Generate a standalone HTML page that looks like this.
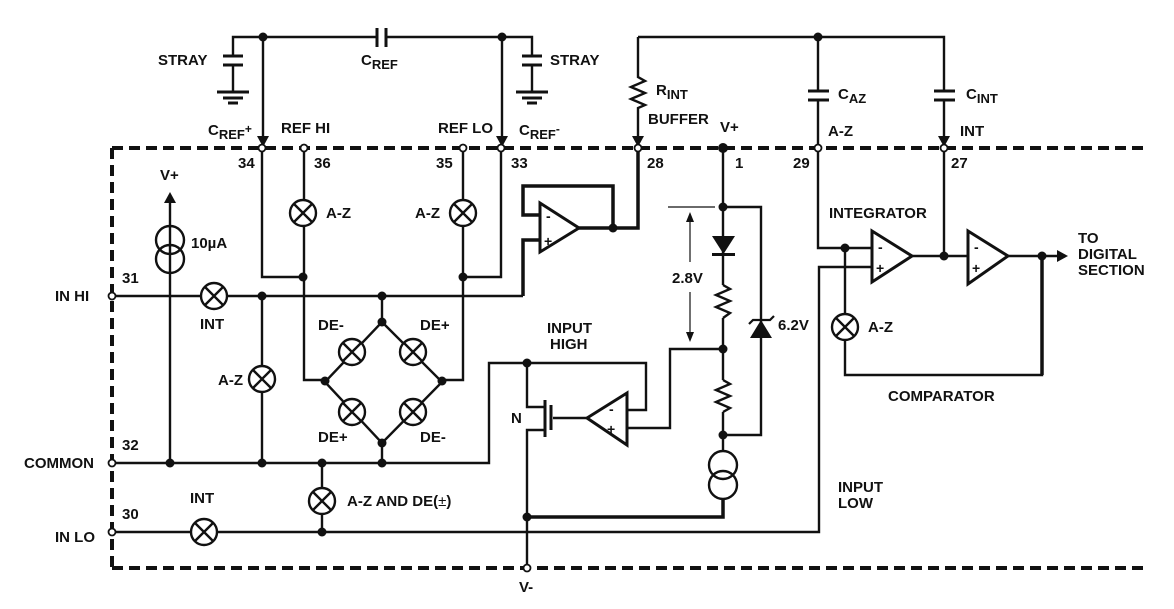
<!DOCTYPE html>
<html><head><meta charset="utf-8"><style>
html,body{margin:0;padding:0;background:#fff}
svg{display:block}
text{font-family:"Liberation Sans",Arial,sans-serif;font-weight:bold;font-size:15px;fill:#111}
.s{font-size:14px}
</style></head><body>
<svg width="1174" height="609" viewBox="0 0 1174 609" xmlns="http://www.w3.org/2000/svg">
<defs>
<g id="sw"><circle r="13" fill="#fff" stroke="#111" stroke-width="2.4"/><path d="M-9,-9L9,9M9,-9L-9,9" stroke="#111" stroke-width="2.4"/></g>
<g id="gnd"><path d="M-16,0H16M-10,6H10M-5,11H5" stroke="#111" stroke-width="3"/></g>
</defs>
<g fill="none" stroke="#111" stroke-width="2.4">
<path d="M112,148H1147M112,568H1147M112,148V568" stroke-width="4" stroke-dasharray="11,6"/>
<path d="M233,56V37H377M386,37H502H532V56M233,65V92M532,65V92"/>
<path d="M377,28V47M386,28V47M223,56H243M223,65H243M522,56H542M522,65H542" stroke-width="3"/>
<path d="M263,37V142M502,37V142"/>
<path d="M262,148V277H303M501,148V277H463"/>
<path d="M304,148V380H325M463,148V380H442"/>
<path d="M325,382L382,322L442,382L382,443Z"/>
<path d="M382,296V322M382,443V463"/>
<path d="M115,296H523"/>
<path d="M523,296V240H540M540,215H523V186H613V228M579,228H638V148" stroke-width="3.5"/>
<path d="M170,200V463"/>
<path d="M262,296V463"/>
<path d="M115,463H489V363H646V410H627"/>
<path d="M115,532H819V267H872"/>
<path d="M322,463V532"/>
<path d="M527,363V407H545M545,430H527V568M587,418H553"/>
<path d="M545,400V437M551,405V430" stroke-width="3"/>
<path d="M627,428H670V349H723"/>
<path d="M723,148V285M723,318V380M723,412V451M723,207H761V435H723"/>
<path d="M668,207H715" stroke-width="1.2"/>
<path d="M690,216V262M690,292V338" stroke-width="1.2"/>
<path d="M723,499V517H527" stroke-width="3.5"/>
<path d="M723,285l7,4l-14,6l14,6l-14,6l14,6l-7,5"/>
<path d="M723,380l7,4l-14,6l14,6l-14,6l14,6l-7,4"/>
<path d="M638,37V77l7,4l-14,6l14,6l-14,6l14,6l-7,3V142"/>
<path d="M638,37H944V91M944,100V142M818,37V91M818,100V148"/>
<path d="M808,91H829M808,100H829M934,91H955M934,100H955" stroke-width="3"/>
<path d="M818,148V248H872M944,148V256M912,256H968"/>
<path d="M845,248V375H1042V256" />
<path d="M1042,256V375" stroke-width="3.5"/>
<path d="M1008,256H1062"/>
<circle cx="170" cy="240" r="14"/><circle cx="170" cy="259" r="14"/>
<circle cx="723" cy="465" r="14"/><circle cx="723" cy="485" r="14"/>
<path d="M540,203L579,228L540,252Z" stroke-width="3"/>
<path d="M627,393L587,418L627,445Z" stroke-width="3"/>
<path d="M872,231L912,256L872,282Z" stroke-width="3"/>
<path d="M968,231L1008,256L968,284Z" stroke-width="3"/>
<path d="M749,324L753,320H770L774,316" stroke-width="2.2"/>
</g>
<g fill="#111">
<path d="M170,192l-6,11h12z"/>
<path d="M263,147l-6,-11h12z"/><path d="M502,147l-6,-11h12z"/>
<path d="M638,147l-6,-11h12z"/><path d="M944,147l-6,-11h12z"/>
<path d="M690,212l-4,10h8z"/><path d="M690,342l-4,-10h8z"/>
<path d="M712,236h23l-11.5,18z"/><rect x="712" y="253" width="23" height="3"/>
<path d="M761,320l-11,18h22z"/>
<path d="M1068,256l-11,-6v12z"/>
<circle cx="263" cy="37" r="4.5"/><circle cx="502" cy="37" r="4.5"/><circle cx="818" cy="37" r="4.5"/>
<circle cx="303" cy="277" r="4.5"/><circle cx="463" cy="277" r="4.5"/>
<circle cx="325" cy="381" r="4.5"/><circle cx="442" cy="381" r="4.5"/>
<circle cx="382" cy="322" r="4.5"/><circle cx="382" cy="443" r="4.5"/>
<circle cx="382" cy="296" r="4.5"/><circle cx="262" cy="296" r="4.5"/>
<circle cx="170" cy="463" r="4.5"/><circle cx="262" cy="463" r="4.5"/><circle cx="322" cy="463" r="4.5"/><circle cx="382" cy="463" r="4.5"/>
<circle cx="322" cy="532" r="4.5"/><circle cx="527" cy="363" r="4.5"/><circle cx="527" cy="517" r="4.5"/>
<circle cx="613" cy="228" r="4.5"/><circle cx="723" cy="148" r="5"/>
<circle cx="723" cy="207" r="4.5"/><circle cx="723" cy="349" r="4.5"/><circle cx="723" cy="435" r="4.5"/>
<circle cx="845" cy="248" r="4.5"/><circle cx="944" cy="256" r="4.5"/><circle cx="1042" cy="256" r="4.5"/>
</g>
<use href="#gnd" x="233" y="92"/><use href="#gnd" x="532" y="92"/>
<use href="#sw" x="303" y="213"/><use href="#sw" x="463" y="213"/>
<use href="#sw" x="214" y="296"/><use href="#sw" x="262" y="379"/>
<use href="#sw" x="352" y="352"/><use href="#sw" x="413" y="352"/>
<use href="#sw" x="352" y="412"/><use href="#sw" x="413" y="412"/>
<use href="#sw" x="322" y="501"/><use href="#sw" x="204" y="532"/>
<use href="#sw" x="845" y="327"/>
<g fill="#fff" stroke="#111" stroke-width="1.8">
<circle cx="262" cy="148" r="3.5"/><circle cx="304" cy="148" r="3.5"/><circle cx="463" cy="148" r="3.5"/><circle cx="501" cy="148" r="3.5"/>
<circle cx="638" cy="148" r="3.5"/><circle cx="818" cy="148" r="3.5"/><circle cx="944" cy="148" r="3.5"/>
<circle cx="112" cy="296" r="3.5"/><circle cx="112" cy="463" r="3.5"/><circle cx="112" cy="532" r="3.5"/>
<circle cx="527" cy="568" r="3.5"/>
</g>
<g>
<text x="546" y="221" class="s">-</text><text x="544" y="246" class="s">+</text>
<text x="609" y="414" class="s">-</text><text x="607" y="434" class="s">+</text>
<text x="878" y="252" class="s">-</text><text x="876" y="273" class="s">+</text>
<text x="974" y="252" class="s">-</text><text x="972" y="273" class="s">+</text>
</g>
<text x="158" y="65">STRAY</text><text x="550" y="65">STRAY</text>
<text x="361" y="65">C<tspan dy="4" style="font-size:13px">REF</tspan></text>
<text x="208" y="135">C<tspan dy="4" style="font-size:13px">REF</tspan><tspan dy="-6" style="font-size:12px">+</tspan></text>
<text x="281" y="133">REF HI</text><text x="438" y="133">REF LO</text>
<text x="519" y="135">C<tspan dy="4" style="font-size:13px">REF</tspan><tspan dy="-6" style="font-size:12px">-</tspan></text>
<text x="656" y="95">R<tspan dy="4" style="font-size:13px">INT</tspan></text>
<text x="648" y="124">BUFFER</text><text x="720" y="132">V+</text>
<text x="838" y="99">C<tspan dy="4" style="font-size:13px">AZ</tspan></text>
<text x="966" y="99">C<tspan dy="4" style="font-size:13px">INT</tspan></text>
<text x="828" y="136">A-Z</text><text x="960" y="136">INT</text>
<text x="238" y="168">34</text><text x="314" y="168">36</text><text x="436" y="168">35</text><text x="511" y="168">33</text>
<text x="647" y="168">28</text><text x="735" y="168">1</text><text x="793" y="168">29</text><text x="951" y="168">27</text>
<text x="160" y="180">V+</text><text x="191" y="248">10µA</text>
<text x="326" y="218">A-Z</text><text x="415" y="218">A-Z</text>
<text x="122" y="283">31</text><text x="55" y="301">IN HI</text>
<text x="200" y="329">INT</text>
<text x="318" y="330">DE-</text><text x="420" y="330">DE+</text>
<text x="318" y="442">DE+</text><text x="420" y="442">DE-</text>
<text x="218" y="385">A-Z</text>
<text x="122" y="450">32</text><text x="24" y="468">COMMON</text>
<text x="190" y="503">INT</text><text x="347" y="506">A-Z AND DE(<tspan font-weight="normal">±</tspan>)</text>
<text x="122" y="519">30</text><text x="55" y="542">IN LO</text>
<text x="547" y="333">INPUT</text><text x="550" y="349">HIGH</text>
<text x="511" y="423">N</text>
<text x="672" y="283">2.8V</text><text x="778" y="330">6.2V</text>
<text x="519" y="592">V-</text>
<text x="838" y="492">INPUT</text><text x="838" y="508">LOW</text>
<text x="829" y="218">INTEGRATOR</text>
<text x="868" y="332">A-Z</text>
<text x="888" y="401">COMPARATOR</text>
<text x="1078" y="243">TO</text><text x="1078" y="259">DIGITAL</text><text x="1078" y="275">SECTION</text>
</svg>
</body></html>
